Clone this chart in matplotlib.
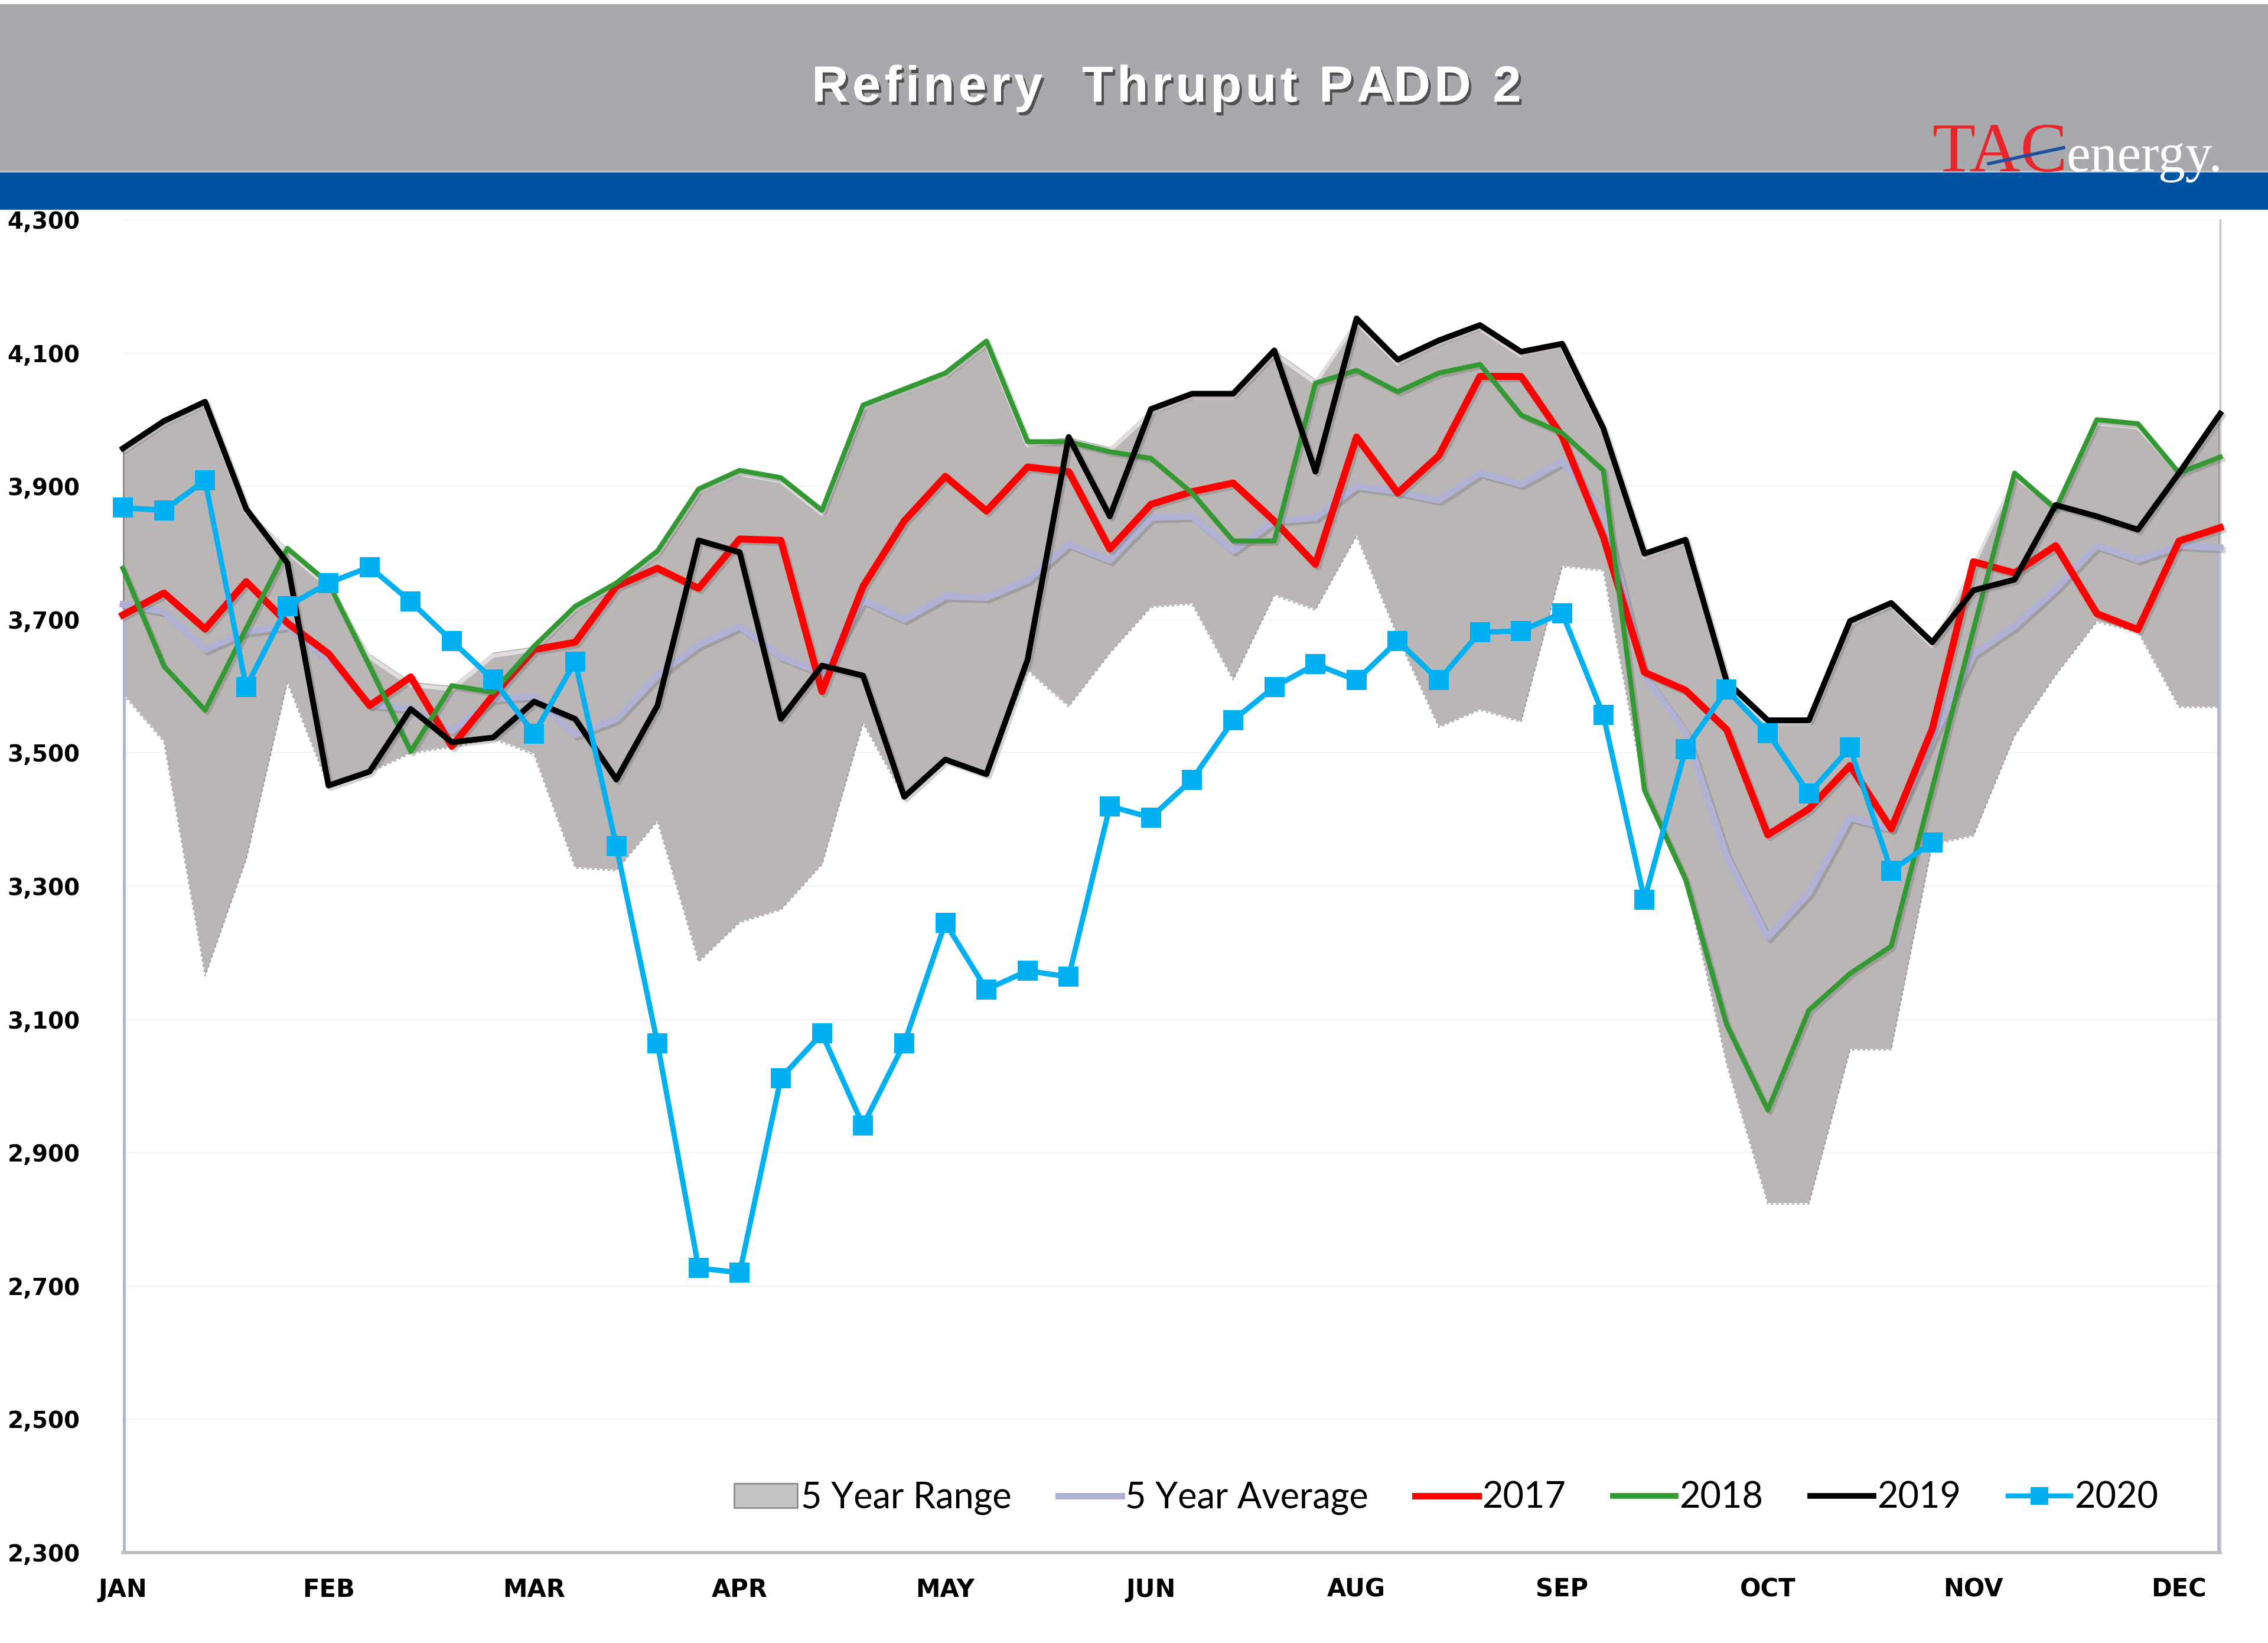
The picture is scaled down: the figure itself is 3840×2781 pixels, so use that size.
import numpy as np
import matplotlib
matplotlib.use("Agg")
import matplotlib.pyplot as plt
import matplotlib.patheffects as pe
from matplotlib.patches import Rectangle, Patch
from matplotlib.lines import Line2D
from matplotlib.transforms import offset_copy
from matplotlib.font_manager import FontProperties

# ---------------- data (weekly, 52 weeks) ----------------
weeks = np.arange(52)
month_labels = ["JAN", "FEB", "MAR", "APR", "MAY", "JUN", "AUG", "SEP", "OCT", "NOV", "DEC"]
month_ticks = [0, 5, 10, 15, 20, 25, 30, 35, 40, 45, 50]
y_ticks = [2300, 2500, 2700, 2900, 3100, 3300, 3500, 3700, 3900, 4100, 4300]

range_low = [3590, 3518, 3167, 3342, 3607, 3451, 3472, 3501, 3510, 3523,
             3499, 3329, 3325, 3399, 3188, 3247, 3266, 3334, 3546, 3434,
             3490, 3468, 3625, 3571, 3651, 3720, 3725, 3611, 3738, 3716,
             3827, 3675, 3540, 3566, 3548, 3781, 3775, 3444, 3310, 3034,
             2825, 2825, 3056, 3056, 3364, 3377, 3527, 3618, 3698, 3683,
             3570, 3570]
range_high = [3957, 3998, 4027, 3866, 3807, 3755, 3649, 3607, 3601, 3651,
              3660, 3720, 3757, 3803, 3896, 3924, 3913, 3864, 4022, 4046,
              4070, 4118, 3967, 3974, 3959, 4016, 4039, 4039, 4104, 4061,
              4152, 4090, 4119, 4142, 4102, 4114, 3987, 3799, 3820, 3607,
              3549, 3549, 3698, 3727, 3666, 3787, 3920, 3874, 4000, 3994,
              3925, 4009]
avg5 = [3723, 3712, 3655, 3682, 3690, 3640, 3573, 3566, 3533, 3581,
        3585, 3527, 3551, 3616, 3662, 3690, 3644, 3620, 3729, 3700,
        3735, 3733, 3759, 3813, 3789, 3853, 3855, 3803, 3848, 3853,
        3900, 3892, 3879, 3920, 3903, 3937, 3861, 3616, 3531, 3345,
        3223, 3290, 3403, 3386, 3520, 3648, 3690, 3746, 3811, 3790,
        3811, 3808]
y2017 = [3707, 3740, 3686, 3757, 3695, 3649, 3571, 3614, 3510, 3586,
         3655, 3666, 3750, 3777, 3747, 3821, 3819, 3592, 3750, 3848,
         3915, 3863, 3929, 3922, 3806, 3873, 3892, 3905, 3848, 3783,
         3974, 3890, 3946, 4065, 4065, 3975, 3824, 3621, 3594, 3535,
         3377, 3416, 3481, 3386, 3536, 3787, 3770, 3811, 3709, 3685,
         3818, 3838]
y2018 = [3777, 3630, 3564, 3687, 3807, 3755, 3630, 3502, 3601, 3591,
         3660, 3720, 3755, 3803, 3896, 3924, 3913, 3864, 4022, 4046,
         4070, 4118, 3967, 3967, 3952, 3942, 3890, 3818, 3818, 4055,
         4074, 4042, 4070, 4083, 4007, 3980, 3924, 3444, 3310, 3092,
         2964, 3114, 3169, 3210, 3447, 3685, 3920, 3866, 4000, 3994,
         3920, 3944]
y2019 = [3957, 3998, 4027, 3866, 3785, 3451, 3472, 3566, 3516, 3523,
         3577, 3551, 3460, 3571, 3819, 3801, 3551, 3631, 3616, 3434,
         3490, 3468, 3640, 3974, 3855, 4016, 4039, 4039, 4104, 3922,
         4152, 4090, 4119, 4142, 4102, 4114, 3987, 3799, 3820, 3607,
         3549, 3549, 3698, 3725, 3666, 3744, 3760, 3872, 3855, 3835,
         3920, 4009]
y2020 = [3868, 3864, 3909, 3599, 3720, 3755, 3779, 3727, 3668, 3610,
         3529, 3637, 3360, 3064, 2727, 2720, 3012, 3079, 2941, 3064,
         3245, 3145, 3173, 3164, 3420, 3403, 3460, 3549, 3599, 3633,
         3609, 3668, 3609, 3681, 3683, 3710, 3557, 3280, 3506, 3595,
         3530, 3439, 3508, 3323, 3366]

title_text = "Refinery  Thruput PADD 2"

# ---------------- styling ----------------
C_RANGE = "#bab6b5"
C_AVG = "#b1b1d6"
C_2017 = "#ff0000"
C_2018 = "#339933"
C_2019 = "#000000"
C_2020 = "#00b0f0"

W, H, DPI = 3840, 2781, 100
fig = plt.figure(figsize=(W / DPI, H / DPI), dpi=DPI)
fig.patch.set_facecolor("white")

# header bands
fig.patches.append(Rectangle((0, 1 - 290 / H), 1, (290 - 7) / H, transform=fig.transFigure,
                             facecolor="#a7a9ac", edgecolor="none", zorder=0))
fig.patches.append(Rectangle((0, 1 - 355 / H), 1, 65 / H, transform=fig.transFigure,
                             facecolor="#0053a1", edgecolor="none", zorder=0))
fig.patches.append(Rectangle((0, 1 - 292 / H), 1, 3 / H, transform=fig.transFigure,
                             facecolor="#c9c3c3", edgecolor="none", zorder=0))

# title with letter spacing
renderer = fig.canvas.get_renderer()
fp = FontProperties(family="Liberation Sans", weight="bold", size=62)
def tw(s):
    return renderer.get_text_width_height_descent(s, fp, ismath=False)[0]
bar_w = tw("|")
extra = 6.5  # px between letters
natural = tw(title_text)
total = natural + extra * (len(title_text) - 1)
x0 = 1975 - total / 2
for i, ch in enumerate(title_text):
    if ch == " ":
        continue
    xi = x0 + (tw(title_text[:i] + "|") - bar_w) + extra * i
    fig.text(xi / W, 1 - 150 / H, ch, ha="left", va="center", color="white",
             fontproperties=fp,
             path_effects=[pe.withSimplePatchShadow(offset=(3, -4), shadow_rgbFace="#3a3a3a", alpha=0.8),
                           pe.Normal()])

# logo
fig.text(3272 / W, 1 - 290 / H, "TAC", ha="left", va="baseline", color="#e8262b",
         fontsize=86, family="Liberation Serif")
fig.text(3498 / W, 1 - 290 / H, "energy.", ha="left", va="baseline", color="white",
         fontsize=66, family="Liberation Serif")
fig.lines.append(Line2D([3367 / W, 3494 / W], [1 - 277 / H, 1 - 250 / H], transform=fig.transFigure,
                        color="#1f4f9f", lw=4, zorder=5))

# axes
left, right = 208 / W, 3759 / W
bottom, top = 1 - 2628 / H, 1 - 372 / H
ax = fig.add_axes([left, bottom, right - left, top - bottom])
ax.set_xlim(0, 51)
ax.set_ylim(2300, 4300)
ax.set_facecolor("white")

for yv in y_ticks:
    ax.axhline(yv, color="#f1f1f1", lw=1.2, zorder=0)

# 5 year range area with bevel
ax.fill_between(weeks, range_low, range_high, color=C_RANGE, lw=0, zorder=1)
hl = offset_copy(ax.transData, fig=fig, x=0, y=-6, units="dots")
ax.plot(weeks, range_high, color="white", lw=5, alpha=0.55, transform=hl, zorder=1.5,
        solid_joinstyle="round")
sh = offset_copy(ax.transData, fig=fig, x=0, y=-2, units="dots")
ax.plot(weeks, range_low, color="#6e6e6e", lw=1.6, alpha=0.55, ls=(0, (2, 2)), transform=sh, zorder=1.5)
ax.vlines([0, 51], [range_low[0], range_low[-1]], [range_high[0], range_high[-1]],
          color="#8a8a8a", lw=4, zorder=1.6)

# 5 year average ends drop to the axis
ax.vlines([0, 51], 2300, [avg5[0], avg5[-1]], color=C_AVG, lw=7, zorder=2)

shadow = [pe.SimpleLineShadow(offset=(3, -3), shadow_color="#555555", alpha=0.25), pe.Normal()]
ax.plot(weeks, avg5, color=C_AVG, lw=8, zorder=3, solid_joinstyle="round", path_effects=shadow, clip_on=False)
ax.plot(weeks, y2017, color=C_2017, lw=8.5, zorder=4, solid_joinstyle="round", path_effects=shadow, clip_on=False)
ax.plot(weeks, y2018, color=C_2018, lw=6, zorder=5, solid_joinstyle="round", path_effects=shadow, clip_on=False)
ax.plot(weeks, y2019, color=C_2019, lw=7, zorder=6, solid_joinstyle="round", path_effects=shadow, clip_on=False)
ax.plot(weeks[:len(y2020)], y2020, color=C_2020, lw=6.5, marker="s", markersize=25,
        markeredgewidth=0, zorder=7, solid_joinstyle="round", clip_on=False)

# spines
for s in ["top", "left"]:
    ax.spines[s].set_visible(False)
ax.spines["bottom"].set_color("#bdbdbd")
ax.spines["bottom"].set_linewidth(4)
ax.spines["right"].set_color("#c8c8c8")
ax.spines["right"].set_linewidth(2.5)

ax.set_yticks(y_ticks)
ax.set_yticklabels([f"{v:,}" for v in y_ticks], fontsize=28, fontweight="bold", family="DejaVu Sans")
ax.set_xticks(month_ticks)
ax.set_xticklabels(month_labels, fontsize=30, fontweight="bold", family="DejaVu Sans")
ax.tick_params(axis="y", length=0, pad=52)
ax.tick_params(axis="x", length=0, pad=30)

# legend
handles = [
    Patch(facecolor="#c6c4c4", edgecolor="#8c8c8c", linewidth=2),
    Line2D([], [], color=C_AVG, lw=8),
    Line2D([], [], color=C_2017, lw=8),
    Line2D([], [], color=C_2018, lw=7),
    Line2D([], [], color=C_2019, lw=7),
    Line2D([], [], color=C_2020, lw=6, marker="s", markersize=22, markeredgewidth=0),
]
labels = ["5 Year Range", "5 Year Average", "2017", "2018", "2019", "2020"]
leg = ax.legend(handles, labels, loc="center", bbox_to_anchor=(0.631, 0.041), ncol=6,
                frameon=False, prop={"family": "Lato", "size": 44},
                handlelength=1.75, handletextpad=0.1, columnspacing=1.3, handleheight=0.65)

fig.savefig("out.png", dpi=DPI, facecolor="white")
